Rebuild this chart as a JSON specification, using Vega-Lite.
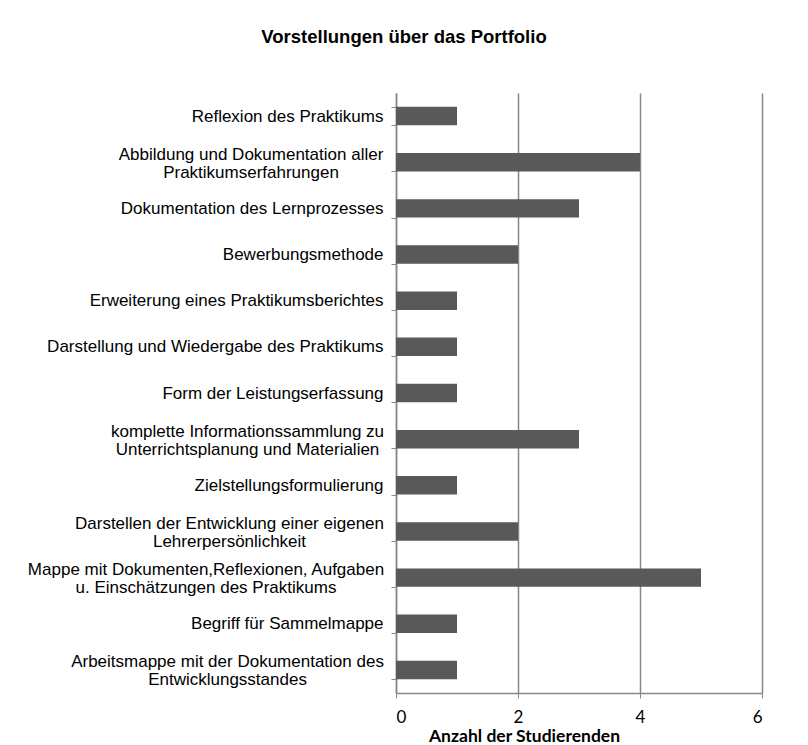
{
  "$schema": "https://vega.github.io/schema/vega-lite/v6.json",
  "autosize": {"type": "none"},
  "width": 366,
  "height": 600,
  "padding": {"left": 396, "top": 93, "right": 46, "bottom": 52},
  "background": "white",
  "title": {
    "text": "Vorstellungen über das Portfolio",
    "font": "Liberation Sans",
    "fontSize": 18.5,
    "fontWeight": "bold",
    "color": "#000000",
    "anchor": "middle",
    "frame": "group",
    "dx": -175,
    "offset": 38
  },
  "data": {
    "values": [
      {"Vorstellung": "Reflexion des Praktikums", "Anzahl": 1},
      {"Vorstellung": "Abbildung und Dokumentation aller\nPraktikumserfahrungen", "Anzahl": 4},
      {"Vorstellung": "Dokumentation des Lernprozesses", "Anzahl": 3},
      {"Vorstellung": "Bewerbungsmethode", "Anzahl": 2},
      {"Vorstellung": "Erweiterung eines Praktikumsberichtes", "Anzahl": 1},
      {"Vorstellung": "Darstellung und Wiedergabe des Praktikums", "Anzahl": 1},
      {"Vorstellung": "Form der Leistungserfassung", "Anzahl": 1},
      {"Vorstellung": "komplette Informationssammlung zu\nUnterrichtsplanung und Materialien", "Anzahl": 3},
      {"Vorstellung": "Zielstellungsformulierung", "Anzahl": 1},
      {"Vorstellung": "Darstellen der Entwicklung einer eigenen\nLehrerpersönlichkeit", "Anzahl": 2},
      {"Vorstellung": "Mappe mit Dokumenten,Reflexionen, Aufgaben\nu. Einschätzungen des Praktikums", "Anzahl": 5},
      {"Vorstellung": "Begriff für Sammelmappe", "Anzahl": 1},
      {"Vorstellung": "Arbeitsmappe mit der Dokumentation des\nEntwicklungsstandes", "Anzahl": 1}
    ]
  },
  "mark": {"type": "bar", "color": "#595959"},
  "encoding": {
    "y": {
      "field": "Vorstellung",
      "type": "nominal",
      "sort": null,
      "scale": {"paddingInner": 0.6, "paddingOuter": 0.3},
      "axis": {
        "title": null,
        "labelExpr": "isValid(datum.value) ? split(datum.value, '\\n') : ''",
        "labelFont": "Liberation Sans",
        "labelFontSize": 17,
        "labelColor": "#000000",
        "labelLineHeight": 18,
        "labelLimit": 400,
        "labelOffset": {"condition": {"test": "isValid(datum.value) && indexof(datum.value, '\\n') >= 0", "value": -8}, "value": 0},
        "labelAlign": {"condition": {"test": "isValid(datum.value) && indexof(datum.value, '\\n') >= 0", "value": "center"}, "value": "right"},
        "labelPadding": {
          "condition": [
            {"test": "isValid(datum.value) && indexof(datum.value, 'Abbildung') == 0", "value": 140.5},
            {"test": "isValid(datum.value) && indexof(datum.value, 'komplette') == 0", "value": 144},
            {"test": "isValid(datum.value) && indexof(datum.value, 'Darstellen der') == 0", "value": 162},
            {"test": "isValid(datum.value) && indexof(datum.value, 'Mappe mit') == 0", "value": 185.5},
            {"test": "isValid(datum.value) && indexof(datum.value, 'Arbeitsmappe') == 0", "value": 164}
          ],
          "value": 8
        },
        "tickBand": "extent",
        "tickSize": 5,
        "tickColor": "#888888",
        "domainColor": "#888888",
        "domainWidth": 1.5,
        "grid": false
      }
    },
    "x": {
      "field": "Anzahl",
      "type": "quantitative",
      "scale": {"domain": [0, 6]},
      "axis": {
        "values": [0, 2, 4, 6],
        "title": "Anzahl der Studierenden",
        "titleFont": "Lato",
        "titleFontSize": 17.5,
        "titleFontWeight": "bold",
        "titleColor": "#000000",
        "titleX": 128,
        "titleY": 48,
        "titleBaseline": "alphabetic",
        "labelFont": "Lato",
        "labelFontSize": 17,
        "labelColor": "#000000",
        "labelPadding": 11,
        "tickSize": 5,
        "tickColor": "#888888",
        "domainColor": "#888888",
        "domainWidth": 1.5,
        "grid": true,
        "gridColor": "#868686",
        "gridWidth": 1.5
      }
    }
  },
  "config": {"view": {"stroke": null}}
}
